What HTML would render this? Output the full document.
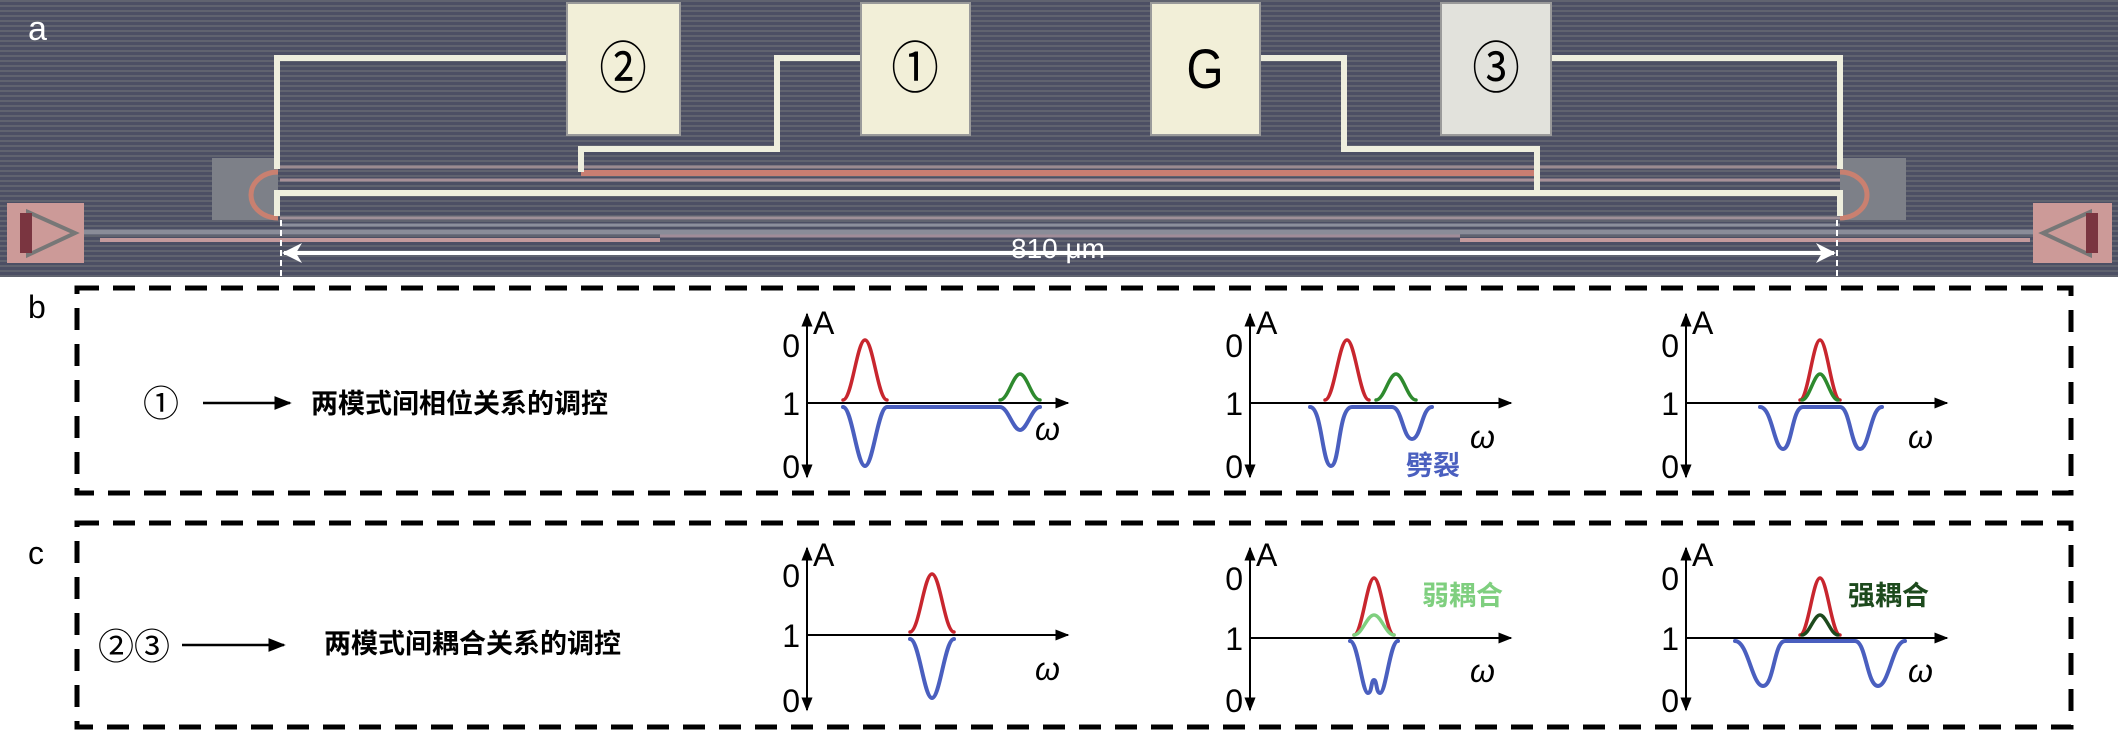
<!DOCTYPE html>
<html><head><meta charset="utf-8"><style>
html,body{margin:0;padding:0;background:#fff;}
svg{display:block;}
.t{font-family:"Liberation Sans","Noto Sans CJK SC",sans-serif;}
</style></head><body>
<svg width="2118" height="730" viewBox="0 0 2118 730" xmlns="http://www.w3.org/2000/svg">
<defs>
<pattern id="st" width="6" height="5" patternUnits="userSpaceOnUse">
<rect width="6" height="5" fill="#4c4f64"/><rect y="0" width="6" height="2" fill="#60636f"/>
</pattern>
<marker id="ah" viewBox="0 0 10 10" refX="9" refY="5" markerWidth="7" markerHeight="7" orient="auto-start-reverse"><path d="M0,1 L10,5 L0,9 Z" fill="#000"/></marker>
<marker id="wh" viewBox="0 0 10 10" refX="9" refY="5" markerWidth="5" markerHeight="5" orient="auto-start-reverse"><path d="M0,0 L10,5 L0,10 L3,5 Z" fill="#fff"/></marker>
</defs>
<rect x="0" y="0" width="2118" height="277" fill="url(#st)"/>
<rect x="212" y="158" width="66" height="62" fill="#7d8088"/>
<rect x="1840" y="158" width="66" height="62" fill="#7d8088"/>
<rect x="7" y="203" width="77" height="60" fill="#cc9a98"/>
<rect x="2033" y="203" width="79" height="60" fill="#cc9a98"/>
<path d="M28,212 L75,233 L28,255 Z" fill="none" stroke="#777" stroke-width="4"/>
<path d="M2090,212 L2043,233 L2090,255 Z" fill="none" stroke="#777" stroke-width="4"/>
<rect x="20" y="213" width="12" height="40" fill="#7a3540"/>
<rect x="2086" y="213" width="12" height="40" fill="#7a3540"/>
<g fill="none">
<line x1="280" y1="167" x2="1840" y2="167" stroke="#9a8a90" stroke-width="3"/>
<line x1="581" y1="173" x2="1537" y2="173" stroke="#c97e72" stroke-width="6"/>
<line x1="280" y1="180" x2="1840" y2="180" stroke="#a89098" stroke-width="3"/>
<line x1="84" y1="232" x2="2033" y2="232" stroke="#8a8c98" stroke-width="5"/>
<line x1="280" y1="218" x2="1840" y2="218" stroke="#a09098" stroke-width="3"/>
<line x1="280" y1="225" x2="1840" y2="225" stroke="#8c8f9c" stroke-width="3"/>
<line x1="100" y1="240" x2="660" y2="240" stroke="#c49a9c" stroke-width="4"/>
<line x1="1460" y1="240" x2="2030" y2="240" stroke="#c49a9c" stroke-width="4"/>
<line x1="660" y1="236" x2="1460" y2="236" stroke="#a08c98" stroke-width="3"/>
<path d="M278,172 A27,23 0 0 0 278,218" stroke="#c98070" stroke-width="5"/>
<path d="M1840,172 A27,23 0 0 1 1840,218" stroke="#c98070" stroke-width="5"/>
</g>
<g fill="none" stroke="#eeeedd" stroke-width="6" stroke-linejoin="miter">
<path d="M567,58 L277,58 L277,169"/>
<path d="M861,58 L777,58 L777,149 L581,149 L581,172"/>
<path d="M1260,58 L1344,58 L1344,149 L1537,149 L1537,193"/>
<path d="M1551,58 L1840,58 L1840,169"/>
<path d="M277,216 L277,193 L1840,193 L1840,216"/>
</g>
<rect x="567" y="3" width="113" height="132" fill="#f2efd8" stroke="#9a9a9a" stroke-width="2"/>
<rect x="861" y="3" width="109" height="132" fill="#f2efd8" stroke="#9a9a9a" stroke-width="2"/>
<rect x="1151" y="3" width="109" height="132" fill="#f2efd8" stroke="#9a9a9a" stroke-width="2"/>
<rect x="1441" y="3" width="110" height="132" fill="#e2e2dc" stroke="#9a9a9a" stroke-width="2"/>
<g class="t" font-size="56" text-anchor="middle" fill="#000">
<text x="623" y="88" transform="translate(623 0) scale(0.85 1) translate(-623 0)">②</text>
<text x="915" y="88" transform="translate(915 0) scale(0.85 1) translate(-915 0)">①</text>
<text x="1205" y="88" transform="translate(1205 0) scale(0.85 1) translate(-1205 0)">G</text>
<text x="1496" y="88" transform="translate(1496 0) scale(0.85 1) translate(-1496 0)">③</text>
</g>
<text class="t" x="28" y="40" font-size="34" fill="#fff">a</text>
<line x1="281" y1="220" x2="281" y2="277" stroke="#fff" stroke-width="2" stroke-dasharray="6,4"/>
<line x1="1837" y1="220" x2="1837" y2="277" stroke="#fff" stroke-width="2" stroke-dasharray="6,4"/>
<line x1="284" y1="253" x2="1834" y2="253" stroke="#fff" stroke-width="4" marker-start="url(#wh)" marker-end="url(#wh)"/>
<text class="t" x="1058" y="258" font-size="28" fill="#fff" text-anchor="middle">810 μm</text>

<text class="t" x="28" y="318" font-size="32" fill="#000">b</text>
<text class="t" x="28" y="564" font-size="32" fill="#000">c</text>
<rect x="77" y="288" width="1994" height="205" fill="none" stroke="#000" stroke-width="5" stroke-dasharray="22,14"/>
<rect x="77" y="523" width="1994" height="204" fill="none" stroke="#000" stroke-width="5" stroke-dasharray="22,14"/>

<text class="t" x="143" y="416" font-size="36" fill="#000">①</text>
<line x1="203" y1="403" x2="290" y2="403" stroke="#000" stroke-width="2.5" marker-end="url(#ah)"/>
<text class="t" x="311" y="413" font-size="27" font-weight="bold" fill="#000">两模式间相位关系的调控</text>
<text class="t" x="98" y="659" font-size="36" fill="#000">②③</text>
<line x1="182" y1="645" x2="284" y2="645" stroke="#000" stroke-width="2.5" marker-end="url(#ah)"/>
<text class="t" x="324" y="653" font-size="27" font-weight="bold" fill="#000">两模式间耦合关系的调控</text>

<g stroke="#000" stroke-width="2" fill="none">
<line x1="807" y1="405" x2="807" y2="314" marker-end="url(#ah)"/><line x1="807" y1="400" x2="807" y2="477" marker-end="url(#ah)"/>
<line x1="807" y1="403" x2="1068" y2="403" marker-end="url(#ah)"/>
<line x1="1250" y1="405" x2="1250" y2="314" marker-end="url(#ah)"/><line x1="1250" y1="400" x2="1250" y2="477" marker-end="url(#ah)"/>
<line x1="1250" y1="403" x2="1511" y2="403" marker-end="url(#ah)"/>
<line x1="1686" y1="405" x2="1686" y2="314" marker-end="url(#ah)"/><line x1="1686" y1="400" x2="1686" y2="477" marker-end="url(#ah)"/>
<line x1="1686" y1="403" x2="1947" y2="403" marker-end="url(#ah)"/>
<line x1="807" y1="637" x2="807" y2="548" marker-end="url(#ah)"/><line x1="807" y1="632" x2="807" y2="710" marker-end="url(#ah)"/>
<line x1="807" y1="635" x2="1068" y2="635" marker-end="url(#ah)"/>
<line x1="1250" y1="640" x2="1250" y2="548" marker-end="url(#ah)"/><line x1="1250" y1="635" x2="1250" y2="710" marker-end="url(#ah)"/>
<line x1="1250" y1="638" x2="1511" y2="638" marker-end="url(#ah)"/>
<line x1="1686" y1="640" x2="1686" y2="548" marker-end="url(#ah)"/><line x1="1686" y1="635" x2="1686" y2="710" marker-end="url(#ah)"/>
<line x1="1686" y1="638" x2="1947" y2="638" marker-end="url(#ah)"/>
</g>
<g class="t" font-size="32" fill="#000" text-anchor="end">
<text x="800" y="357">0</text><text x="800" y="415">1</text><text x="800" y="478">0</text>
<text x="1243" y="357">0</text><text x="1243" y="415">1</text><text x="1243" y="478">0</text>
<text x="1679" y="357">0</text><text x="1679" y="415">1</text><text x="1679" y="478">0</text>
<text x="800" y="587">0</text><text x="800" y="647">1</text><text x="800" y="712">0</text>
<text x="1243" y="590">0</text><text x="1243" y="650">1</text><text x="1243" y="712">0</text>
<text x="1679" y="590">0</text><text x="1679" y="650">1</text><text x="1679" y="712">0</text>
</g>
<g class="t" font-size="32" fill="#000">
<text x="813" y="334">A</text><text x="1256" y="334">A</text><text x="1692" y="334">A</text>
<text x="813" y="566">A</text><text x="1256" y="566">A</text><text x="1692" y="566">A</text>
</g>
<g class="t" font-size="32" font-style="italic" fill="#000">
<text x="1035" y="440">ω</text><text x="1470" y="448">ω</text><text x="1908" y="448">ω</text>
<text x="1035" y="680">ω</text><text x="1470" y="682">ω</text><text x="1908" y="682">ω</text>
</g>

<g fill="none" stroke-width="3.5" stroke-linecap="round">
<path stroke="#c8262e" d="M843,400 C852,400 857,340 865,340 C873,340 878,400 887,400"/>
<path stroke="#2e8a2e" d="M1000,400 C1008,400 1013,374 1020,374 C1027,374 1032,400 1040,400"/>
<path stroke="#4a5fbf" stroke-width="4" d="M843,407 C852,407 857,466 865,466 C873,466 878,407 887,407 L1000,407 C1008,407 1013,430 1020,430 C1027,430 1032,407 1040,407"/>

<path stroke="#c8262e" d="M1325,400 C1334,400 1339,340 1347,340 C1355,340 1360,400 1369,400"/>
<path stroke="#2e8a2e" d="M1376,400 C1384,400 1389,374 1396,374 C1403,374 1408,400 1416,400"/>
<path stroke="#4a5fbf" stroke-width="4" d="M1310,407 C1322,407 1322,466 1331,466 C1340,466 1338,407 1352,407 L1392,407 C1402,407 1403,439 1412,439 C1421,439 1422,407 1432,407"/>

<path stroke="#c8262e" d="M1800,400 C1808,400 1813,340 1820,340 C1827,340 1832,400 1840,400"/>
<path stroke="#2e8a2e" d="M1802,400 C1809,400 1814,374 1820,374 C1826,374 1831,400 1838,400"/>
<path stroke="#4a5fbf" stroke-width="4" d="M1760,407 C1772,407 1774,449 1783,449 C1792,449 1792,407 1803,407 L1840,407 C1850,407 1851,449 1860,449 C1869,449 1871,407 1882,407"/>

<path stroke="#c8262e" d="M910,632 C919,632 924,574 932,574 C940,574 945,632 954,632"/>
<path stroke="#4a5fbf" stroke-width="4" d="M910,639 C919,639 924,698 932,698 C940,698 945,639 954,639"/>

<path stroke="#c8262e" d="M1354,635 C1362,635 1367,578 1374,578 C1381,578 1386,635 1394,635"/>
<path stroke="#7fcf7f" d="M1354,635 C1362,635 1367,615 1374,615 C1381,615 1386,635 1394,635"/>
<path stroke="#4a5fbf" stroke-width="4" d="M1350,641 C1358,641 1362,693 1368,693 C1372,693 1371,680 1374,680 C1377,680 1376,693 1380,693 C1386,693 1390,641 1398,641"/>

<path stroke="#c8262e" d="M1800,635 C1808,635 1813,578 1820,578 C1827,578 1832,635 1840,635"/>
<path stroke="#1d4a1d" d="M1802,635 C1809,635 1814,615 1820,615 C1826,615 1831,635 1838,635"/>
<path stroke="#4a5fbf" stroke-width="4" d="M1735,641 C1748,641 1752,686 1763,686 C1774,686 1774,641 1785,641 L1855,641 C1866,641 1867,686 1878,686 C1889,686 1893,641 1905,641"/>
</g>
<g class="t" font-size="27" font-weight="bold">
<text x="1406" y="475" fill="#4a5fbf">劈裂</text>
<text x="1422" y="605" fill="#7fcf7f">弱耦合</text>
<text x="1848" y="605" fill="#1d4a1d">强耦合</text>
</g>
</svg>
</body></html>
